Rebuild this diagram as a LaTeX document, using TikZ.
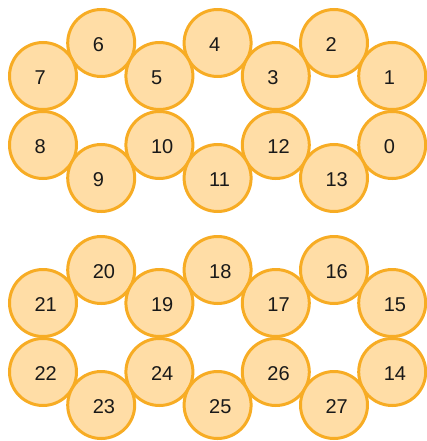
\documentclass[tikz,border=0pt]{standalone}
\usepackage{fontspec}
\setmainfont{Liberation Sans}
\definecolor{cfill}{RGB}{255,221,166}
\definecolor{cdraw}{RGB}{247,172,36}
\newcommand\lb[1]{\makebox[0pt][l]{\hspace*{-8.4pt}#1}}
\begin{document}
\begin{tikzpicture}[x=1pt,y=-1pt,
  ball/.style={circle,draw=cdraw,fill=cfill,line width=3pt,minimum size=67pt,inner sep=0pt,
    text height=16.7pt,text depth=0pt,font=\fontsize{20}{22}\selectfont,text=black!90}]
\useasboundingbox (0,0) rectangle (426,441);
% top group
\node[ball] (n6) at (101.2,43) {\lb{6}};
\node[ball] (n4) at (217.6,43) {\lb{4}};
\node[ball] (n2) at (334,43) {\lb{2}};
\node[ball] (n7) at (43,76) {\lb{7}};
\node[ball] (n5) at (159.4,76) {\lb{5}};
\node[ball] (n3) at (275.8,76) {\lb{3}};
\node[ball] (n1) at (392.2,76) {\lb{1}};
\node[ball] (n8) at (43,145) {\lb{8}};
\node[ball] (n10) at (159.4,145) {\lb{10}};
\node[ball] (n12) at (275.8,145) {\lb{12}};
\node[ball] (n0) at (392.2,145) {\lb{0}};
\node[ball] (n9) at (101.2,178) {\lb{9}};
\node[ball] (n11) at (217.6,178) {\lb{11}};
\node[ball] (n13) at (334,178) {\lb{13}};
% bottom group
\node[ball] (n20) at (101.2,270) {\lb{20}};
\node[ball] (n18) at (217.6,270) {\lb{18}};
\node[ball] (n16) at (334,270) {\lb{16}};
\node[ball] (n21) at (43,303) {\lb{21}};
\node[ball] (n19) at (159.4,303) {\lb{19}};
\node[ball] (n17) at (275.8,303) {\lb{17}};
\node[ball] (n15) at (392.2,303) {\lb{15}};
\node[ball] (n22) at (43,372) {\lb{22}};
\node[ball] (n24) at (159.4,372) {\lb{24}};
\node[ball] (n26) at (275.8,372) {\lb{26}};
\node[ball] (n14) at (392.2,372) {\lb{14}};
\node[ball] (n23) at (101.2,405) {\lb{23}};
\node[ball] (n25) at (217.6,405) {\lb{25}};
\node[ball] (n27) at (334,405) {\lb{27}};
\end{tikzpicture}
\end{document}
